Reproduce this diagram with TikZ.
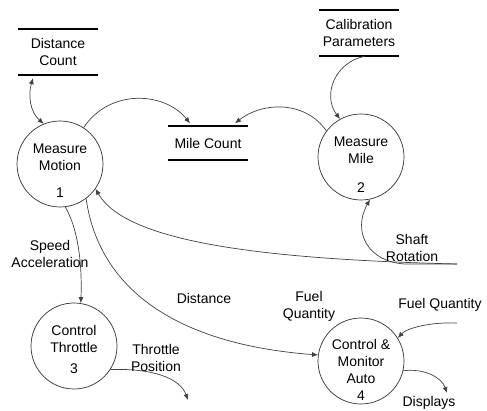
\documentclass[tikz,border=0pt]{standalone}
\usepackage{fontspec}
\setmainfont{Liberation Sans}
\usetikzlibrary{arrows.meta}
\begin{document}
\begin{tikzpicture}[x=1pt,y=-1pt,
  every node/.style={font=\fontsize{14}{17}\selectfont, align=center, inner sep=0pt},
  proc/.style={circle, draw=black!80, line width=0.7pt, minimum size=86pt},
  store/.style={minimum width=80pt, minimum height=46pt},
  flow/.style={draw=black!75, line width=0.7pt, -{Latex[length=6pt,width=5pt]}},
  lbl/.style={}]
\useasboundingbox (0,0) rectangle (487,411);
% processes
\node[proc] (p1) at (60,164) {};
\node[proc] (p2) at (361,157) {};
\node[proc] (p3) at (74,346) {};
\node[proc] (p4) at (361,361) {};
\node (t1) at (60,157) {Measure\\Motion};
\node (n1) at (60,193) {1};
\node (t2) at (361,150) {Measure\\Mile};
\node (n2) at (361,188) {2};
\node (t3) at (74,339) {Control\\Throttle};
\node (n3) at (74,369) {3};
\node (t4) at (361,361) {Control \&\\Monitor\\Auto};
\node (n4) at (361,396) {4};
% stores
\node[store] (dc) at (58,52) {Distance\\Count};
\node[store, minimum height=33pt] (mc) at (208,143) {Mile Count};
\node[store] (cp) at (359,33) {Calibration\\Parameters};
\foreach \s in {dc,mc,cp}{
  \draw[line width=2.2pt] (\s.north west) -- (\s.north east);
  \draw[line width=2.2pt] (\s.south west) -- (\s.south east);
}
% free ends
\coordinate (shaft) at (457,264);
\coordinate (fuel) at (457,323);
\coordinate (thr) at (188,400);
\coordinate (disp) at (447,393);
% flows
\draw[flow, {Latex[length=6pt,width=5pt]}-{Latex[length=6pt,width=5pt]}]
  ([xshift=-25pt,yshift=-3pt]dc.south) .. controls (28,95) and (30,112) .. (p1.112);
\draw[flow] (p1.57) .. controls (110,88) and (165,92) .. ([xshift=-18pt,yshift=3pt]mc.north);
\draw[flow] (p2.143) .. controls (305,100) and (262,102) .. ([xshift=27pt,yshift=3pt]mc.north);
\draw[flow] ([xshift=6pt]cp.south) .. controls (335,62) and (322,95) .. (p2.119);
\draw[flow] (shaft) .. controls (250,259) and (125,240) .. (p1.-35);
\draw[flow] (shaft) -- (405,264) .. controls (368,262) and (352,232) .. (p2.-78);
\draw[flow] (p1.-83) .. controls (80,232) and (82,272) .. (p3.81);
\draw[flow] (p1.-53) .. controls (100,295) and (185,345) .. (p4.172);
\draw[flow] (fuel) .. controls (430,322) and (407,328) .. (p4.32);
\draw[flow] (p3.-33) .. controls (152,368) and (180,378) .. (thr);
\draw[flow] (p4.-13) .. controls (425,368) and (442,378) .. (disp);
% labels
\node (l1) at (50,254) {Speed\\Acceleration};
\node (l2) at (204,298) {Distance};
\node (l3) at (309,306) {Fuel\\Quantity};
\node (l4) at (440,305) {Fuel Quantity};
\node (l5) at (412,248) {Shaft\\Rotation};
\node (l6) at (156,358) {Throttle\\Position};
\node (l7) at (429,403) {Displays};
\end{tikzpicture}
\end{document}
